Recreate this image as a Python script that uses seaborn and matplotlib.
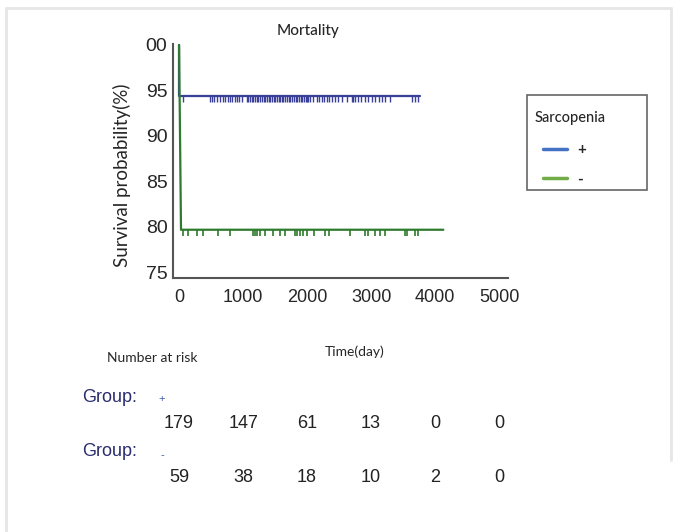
import pandas as pd
import matplotlib.pyplot as plt
import matplotlib.transforms as mtransforms
from matplotlib.lines import Line2D
from matplotlib.patches import Rectangle
from matplotlib.ticker import MultipleLocator
import seaborn as sns

# Kaplan-Meier curves (time in days, survival in %)
plus_time = [0, 0, 3770]
plus_surv = [100, 94.41, 94.41]
minus_time = [0, 30, 4130]
minus_surv = [100, 79.66, 79.66]

# censored observations
plus_censor = [60, 480, 510, 540, 590, 640, 680, 720, 760, 790, 830, 880, 900, 930, 980,
               1060, 1080, 1110, 1140, 1160, 1190, 1210, 1240, 1270, 1290, 1320, 1340, 1370,
               1400, 1420, 1450, 1480, 1500, 1530, 1560, 1580, 1610, 1630, 1660, 1690, 1710,
               1740, 1770, 1790, 1820, 1850, 1870, 1900, 1920, 1950, 1980, 2000, 2020, 2050,
               2090, 2150, 2190, 2230, 2270, 2310, 2350, 2390, 2440, 2490, 2540, 2620, 2700,
               2720, 2750, 2800, 2850, 2910, 2960, 3010, 3060, 3120, 3170, 3220, 3290,
               3640, 3690, 3740]
minus_censor = [57, 146, 276, 380, 615, 797, 1162, 1188, 1214, 1266, 1344, 1474, 1578, 1656,
                1812, 1838, 1890, 1943, 1995, 2109, 2281, 2349, 2672, 2906, 2958, 3062, 3140,
                3219, 3531, 3557, 3687, 3739]

# number at risk table
risk_times = [0, 1000, 2000, 3000, 4000, 5000]
plus_at_risk = [179, 147, 61, 13, 0, 0]
minus_at_risk = [59, 38, 18, 10, 2, 0]

ytick_values = [75, 80, 85, 90, 95, 100]
ytick_labels = ['75', '80', '85', '90', '95', '00']

line_colors = {'+': '#3a3f98', '-': '#2e7b2e'}
legend_colors = {'+': '#4472c4', '-': '#70ad47'}

sns.set_style('white')
plt.rcParams['font.family'] = ['Liberation Sans', 'DejaVu Sans']
label_font = ['Lato', 'DejaVu Sans']

curves = pd.concat([
    pd.DataFrame({'time': plus_time, 'surv': plus_surv, 'group': '+'}),
    pd.DataFrame({'time': minus_time, 'surv': minus_surv, 'group': '-'}),
])

fig = plt.figure(figsize=(6.8, 5.32), dpi=100)
ax = fig.add_axes([173 / 680, 1 - 278 / 532, (508 - 173) / 680, (278 - 44) / 532])

sns.lineplot(data=curves, x='time', y='surv', hue='group', hue_order=['+', '-'],
             palette=line_colors, estimator=None, sort=False, lw=1.6, legend=False, ax=ax)

ax.plot(plus_censor, [plus_surv[-1]] * len(plus_censor), ls='none', marker=3,
        ms=4.5, mew=1, color=line_colors['+'])
ax.plot(minus_censor, [minus_surv[-1]] * len(minus_censor), ls='none', marker=3,
        ms=4.5, mew=1.2, color=line_colors['-'])

ax.set_xlim(-95, 5140)
ax.set_ylim(74.35, 100.1)
ax.set_xticks(risk_times)
ax.xaxis.set_minor_locator(MultipleLocator(500))
ax.set_yticks(ytick_values)
ax.set_yticklabels(ytick_labels)
ax.tick_params(axis='x', which='major', direction='in', length=4, width=1.2,
               color='#555555', labelsize=13, pad=8)
ax.tick_params(axis='x', which='minor', direction='in', length=2.5, width=1, color='#555555')
ax.tick_params(axis='y', direction='in', length=5, width=1.2, color='#555555',
               labelsize=14, pad=4)
ax.set_xlabel('')
ax.set_ylabel('')
sns.despine(ax=ax)
for side in ['left', 'bottom']:
    ax.spines[side].set_color('#555555')
    ax.spines[side].set_linewidth(1.5)

fig.text(308 / 680, 1 - 31 / 532, 'Mortality', ha='center', va='center',
         fontsize=11, family=label_font, weight='medium')
fig.text(122 / 680, 1 - 175 / 532, 'Survival probability(%)', ha='center', va='center',
         rotation=90, fontsize=13.5, family=label_font)

# legend box
fig.add_artist(Rectangle((527 / 680, 1 - 190 / 532), 120 / 680, 95 / 532,
                         transform=fig.transFigure, fill=False, edgecolor='#666666', lw=1.2))
fig.text(535 / 680, 1 - 118 / 532, 'Sarcopenia', ha='left', va='center',
         fontsize=10.5, family=label_font, weight='medium')
handles = [Line2D([], [], color=legend_colors[g], lw=2.5) for g in ['+', '-']]
fig.legend(handles, ['+', '-'], loc='upper left', bbox_to_anchor=(543 / 680, 1 - 143 / 532),
           borderaxespad=0, borderpad=0, frameon=False, handlelength=1.6,
           handletextpad=0.65, labelspacing=1.0,
           prop={'family': label_font, 'size': 11, 'weight': 'bold'})

# number at risk
fig.text(107 / 680, 1 - 358 / 532, 'Number at risk', ha='left', va='center',
         fontsize=10, family=label_font)
fig.text(355 / 680, 1 - 352 / 532, 'Time(day)', ha='center', va='center',
         fontsize=10, family=label_font)
fig.text(82 / 680, 1 - 397 / 532, 'Group:', ha='left', va='center', fontsize=13,
         color='#2b2d6e')
fig.text(162 / 680, 1 - 399 / 532, '+', ha='center', va='center', fontsize=8,
         color='#3a5bb0')
fig.text(82 / 680, 1 - 451 / 532, 'Group:', ha='left', va='center', fontsize=13,
         color='#2b2d6e')
fig.text(162 / 680, 1 - 455 / 532, '-', ha='center', va='center', fontsize=8,
         color='#3a5bb0')

blend = mtransforms.blended_transform_factory(ax.transData, fig.transFigure)
for t, n in zip(risk_times, plus_at_risk):
    ax.text(t, 1 - 423 / 532, str(n), transform=blend, ha='center', va='center',
            fontsize=13, color='#222222')
for t, n in zip(risk_times, minus_at_risk):
    ax.text(t, 1 - 477 / 532, str(n), transform=blend, ha='center', va='center',
            fontsize=13, color='#222222')

# light page border
border = dict(color='#e6e6e6', lw=2, transform=fig.transFigure)
fig.add_artist(Line2D([6 / 680, 6 / 680], [0, 1 - 8 / 532], **border))
fig.add_artist(Line2D([6 / 680, 671 / 680], [1 - 8 / 532, 1 - 8 / 532], **border))
fig.add_artist(Line2D([671 / 680, 671 / 680], [1 - 8 / 532, 1 - 460 / 532], **border))

fig.savefig('out.png', dpi=100)
